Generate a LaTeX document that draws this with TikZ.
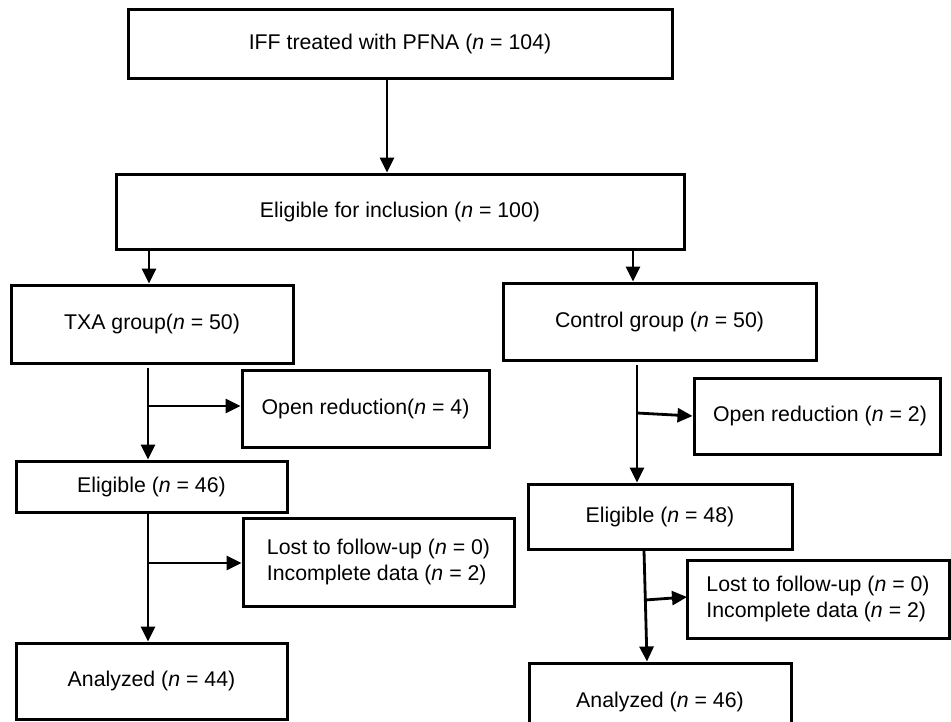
\documentclass[tikz,border=0pt]{standalone}
\usepackage{fontspec}
\setmainfont{Liberation Sans}
\usetikzlibrary{arrows.meta}
\begin{document}
\begin{tikzpicture}[x=1pt,y=-1pt,
  box/.style={draw, line width=3pt, inner sep=0pt, align=center, font=\fontsize{21.3}{26}\selectfont},
  lbox/.style={box, align=left},
  arr/.style={line width=2.8pt, -{Triangle[length=15pt,width=14pt]}}]
\clip (0,0) rectangle (951,721);
% nodes
\node[box, minimum width=544pt, minimum height=69pt] (top) at (400,43.5) {IFF treated with PFNA (\textit{n} = 104)};
\node[box, minimum width=568pt, minimum height=75pt] (elig) at (400,211.5) {Eligible for inclusion (\textit{n} = 100)};
\node[box, minimum width=282pt, minimum height=78pt] (txa) at (152,324) {TXA group(\textit{n} = 50)};
\node[box, minimum width=313pt, minimum height=77pt] (ctrl) at (659.5,321.5) {Control group (\textit{n} = 50)};
\node[box, minimum width=247pt, minimum height=77pt] (open4) at (365.5,408.5) {Open reduction(\textit{n} = 4)};
\node[box, minimum width=246pt, minimum height=76pt] (open2) at (817,416) {\hspace{6pt}Open reduction (\textit{n} = 2)};
\node[box, minimum width=271pt, minimum height=51pt] (el46) at (151.5,486.5) {Eligible (\textit{n} = 46)};
\node[box, minimum width=264pt, minimum height=65pt] (el48) at (660,516.5) {Eligible (\textit{n} = 48)};
\node[lbox, minimum width=271pt, minimum height=88pt] (lost1) at (378.5,562) {Lost to follow-up (\textit{n} = 0)\\Incomplete data (\textit{n} = 2)};
\node[lbox, minimum width=262pt, minimum height=78pt] (lost2) at (818,599) {Lost to follow-up (\textit{n} = 0)\\Incomplete data (\textit{n} = 2)};
\node[box, minimum width=271pt, minimum height=76pt] (an44) at (151.5,681) {Analyzed (\textit{n} = 44)};
\node[box, minimum width=262pt, minimum height=77pt] (an46) at (660,701.5) {Analyzed (\textit{n} = 46)};
% helper coordinates
\coordinate (cA) at (387,0);
\coordinate (cB) at (149,0);
\coordinate (cC) at (633,0);
\coordinate (cD) at (148,0);
\coordinate (cE) at (637,0);
\coordinate (cF) at (644,0);
\coordinate (cG) at (647,0);
\coordinate (b1) at (148,406);
\coordinate (b2) at (148,563);
\coordinate (b3) at (637,413);
\coordinate (b4) at (645,600);
\coordinate (t4) at (687,597);
% connectors
\draw[arr] (top.south -| cA) -- (elig.north -| cA);
\draw[arr] (elig.south -| cB) -- (txa.north -| cB);
\draw[arr] (elig.south -| cC) -- (ctrl.north -| cC);
\draw[arr, shorten <=3pt] (txa.south -| cD) -- (el46.north -| cD);
\draw[arr] (b1) -- (open4.west |- b1);
\draw[arr] (el46.south -| cD) -- (an44.north -| cD);
\draw[arr] (b2) -- (lost1.west |- b2);
\draw[arr, shorten <=3pt] (ctrl.south -| cE) -- (el48.north -| cE);
\draw[arr] (b3) -- (open2.west);
\draw[arr] (el48.south -| cF) -- (an46.north -| cG);
\draw[arr] (b4) -- (t4);
\end{tikzpicture}
\end{document}
